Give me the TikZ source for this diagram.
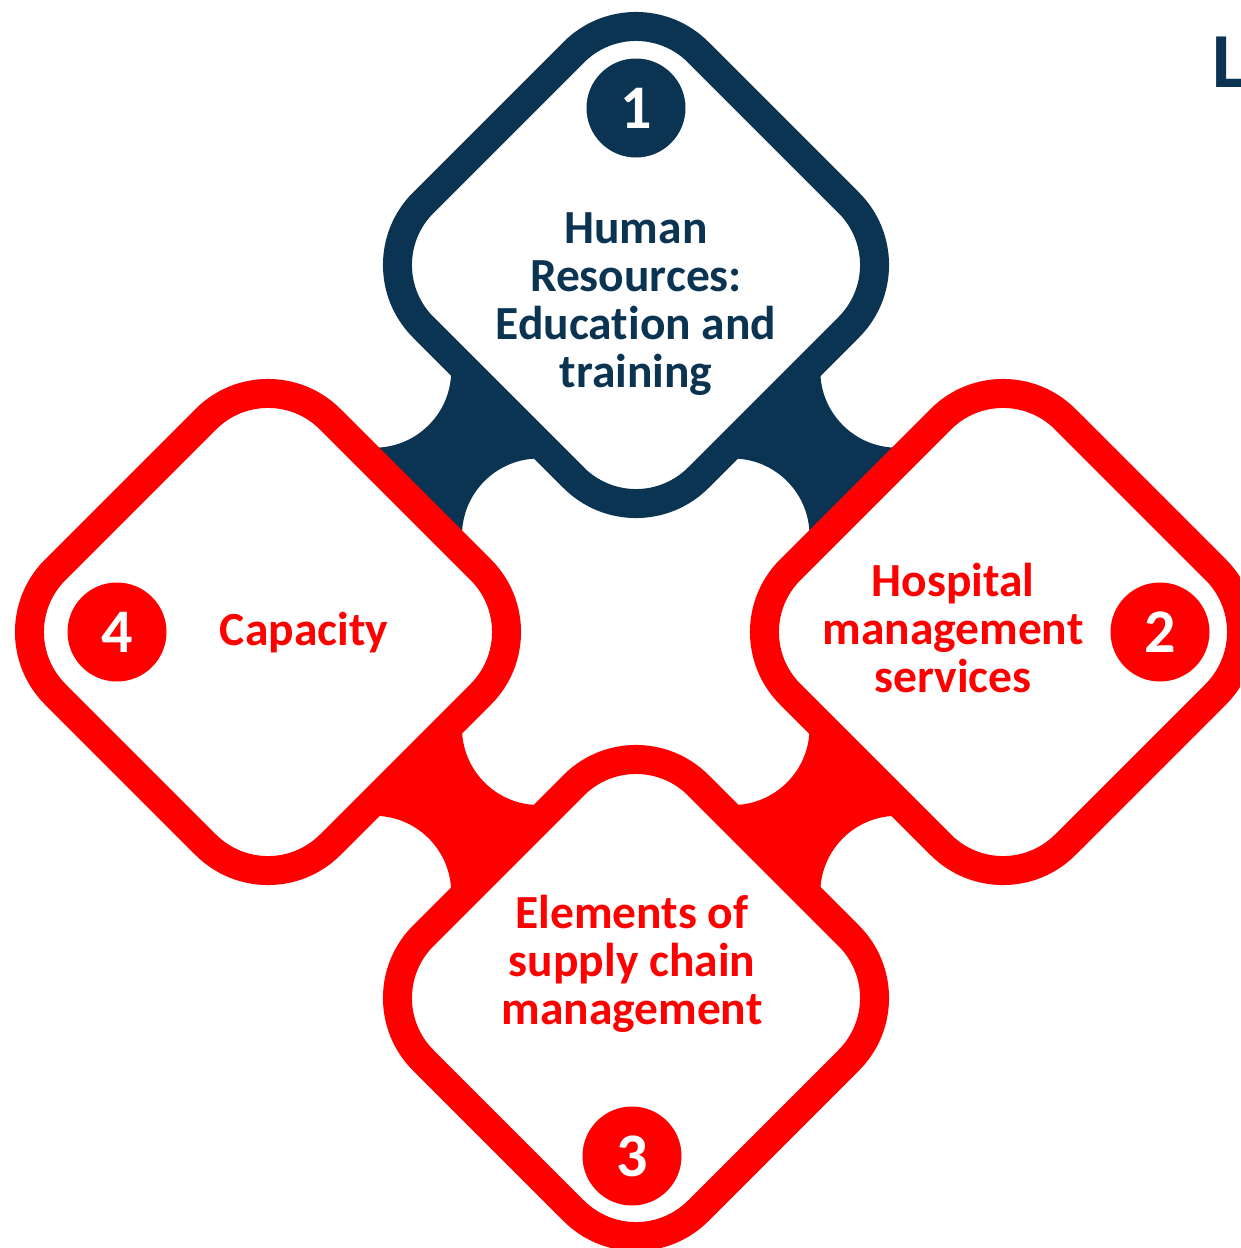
\documentclass[tikz,border=0pt]{standalone}
\usepackage{fontspec}
\setmainfont{Carlito}[Ligatures=CommonOff]
\usepackage{tikz}
\usetikzlibrary{positioning,shapes.geometric,calc,backgrounds}

\definecolor{navy}{RGB}{11,51,82}
\definecolor{brightred}{RGB}{255,0,0}

\tikzset{
  petal/.style={diamond, draw=#1, line width=29pt, rounded corners=88pt,
    minimum width=550pt, minimum height=550pt, inner sep=0pt, outer sep=0pt},
  numdot/.style={circle, fill=#1, text=white, minimum size=99pt, inner sep=0pt,
    font=\fontsize{62}{62}\selectfont\bfseries},
  boxtext/.style={text=#1, align=center, inner sep=0pt,
    font=\fontsize{47.5}{48}\selectfont\bfseries}
}

% bridge between two petals: midpoint, angle, colour
\newcommand{\linkjoint}[3]{%
  \begin{scope}[shift={#1}, rotate=#2]
    \clip (-72,-110) rectangle (72,123);
    \fill[#3, even odd rule] (-100,-200) rectangle (100,220)
      (0,-110) circle (77) (0,123) circle (77);
  \end{scope}}

\begin{document}
\begin{tikzpicture}[x=1pt, y=-1pt]
  \useasboundingbox (0,0) rectangle (1240,1248);
  \clip (0,0) rectangle (1240,1248);

  % the four petals
  \node (hrbox) [petal=navy] at (636,265) {};
  \node (hospbox) [petal=brightred] at (1003,632) {};
  \node (supplybox) [petal=brightred] at (636,998) {};
  \node (capbox) [petal=brightred] at (268,632) {};

  \begin{scope}[on background layer]
    \linkjoint{($(hrbox)!0.5!(capbox)$)}{45}{navy}
    \linkjoint{($(hrbox)!0.5!(hospbox)$)}{-45}{navy}
    \linkjoint{($(supplybox)!0.5!(hospbox)$)}{-135}{brightred}
    \linkjoint{($(supplybox)!0.5!(capbox)$)}{135}{brightred}
  \end{scope}

  % numbers
  \node (num1) [numdot=navy] at (636,108) {1};
  \node (num2) [numdot=brightred] at (1160,632) {2};
  \node (num3) [numdot=brightred] at (632,1156) {3};
  \node (num4) [numdot=brightred] at (117,632) {4};

  % texts
  \node (hrtext) [boxtext=navy] at (636,304.5) {Human\\Resources:\\Education and\\training};
  \node (hosptext) [boxtext=brightred] at (953,628) {Hospital\\management\\services};
  \node (supplytext) [boxtext=brightred] at (632,964) {Elements of\\supply chain\\management};
  \node (captext) [boxtext=brightred] at (304,633) {Capacity};

  \node (headL) [anchor=base west, inner sep=0pt, text=navy,
    font=\fontsize{78}{78}\selectfont\bfseries] at (1212,87) {L};
\end{tikzpicture}
\end{document}
